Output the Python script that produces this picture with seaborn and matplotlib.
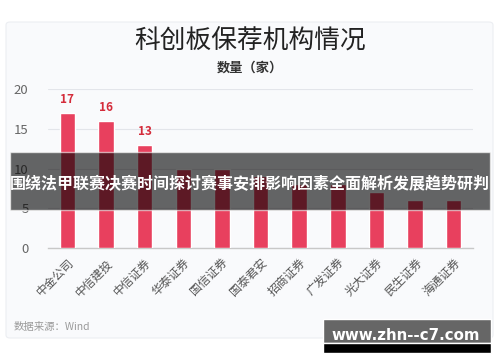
import matplotlib
matplotlib.use("Agg")
import matplotlib.pyplot as plt
import seaborn as sns
import pandas as pd
from matplotlib.patches import FancyBboxPatch, Rectangle

categories = ["中金公司", "中信建投", "中信证券", "华泰证券", "国信证券", "国泰君安",
              "招商证券", "广发证券", "光大证券", "民生证券", "海通证券"]
values = [17, 16, 13, 10, 10, 9, 8, 8, 7, 6, 6]
labeled_count = 3
y_ticks = [0, 5, 10, 15, 20]

sns.set_theme(style="white")
plt.rcParams['font.family'] = ['Noto Sans CJK SC', 'DejaVu Sans']

fig = plt.figure(figsize=(5.0, 3.62), dpi=100)
fig.patch.set_facecolor("white")

# card background
card = FancyBboxPatch((6/500, 1-338/362), 487/500, 316/362,
                      boxstyle="round,pad=0,rounding_size=0.008",
                      transform=fig.transFigure, facecolor="#f9fafc",
                      edgecolor="#eceef2", linewidth=0.8, zorder=-5)
fig.patches.append(card)

ax = fig.add_axes([48/500, 1-248/362, 425/500, 159/362])
ax.set_zorder(1)
ax.set_facecolor("none")
df = pd.DataFrame({"cat": categories, "val": values})
sns.barplot(data=df, x="cat", y="val", ax=ax, color="#e8405e", width=0.4,
            saturation=1, zorder=3)
ax.set_xlim(-0.5, len(categories) - 0.5)
ax.set_ylim(0, 20)
ax.set_yticks(y_ticks)
ax.set_yticklabels([str(t) for t in y_ticks], color="#666666", fontsize=9.5)
ax.yaxis.grid(True, color="#e3e5ea", linewidth=0.8, zorder=0)
ax.set_axisbelow(True)
for s in ["top", "right", "left"]:
    ax.spines[s].set_visible(False)
ax.spines["bottom"].set_color("#c8c8c8")
ax.spines["bottom"].set_linewidth(1.0)
ax.tick_params(axis="y", length=0, pad=14)
ax.set_xticks(range(len(categories)))
ax.set_xticklabels(categories, rotation=45, ha="right", rotation_mode="anchor",
                   color="#555555", fontsize=8.5)
ax.set_xticks([i - 0.5 for i in range(len(categories) + 1)], minor=True)
ax.tick_params(axis="x", which="major", length=0, pad=6)
ax.tick_params(axis="x", which="minor", length=4, color="#c8c8c8", width=1)
ax.set_xlabel("")
ax.set_ylabel("")

for i in range(labeled_count):
    ax.annotate(str(values[i]), (i, values[i]), xytext=(0, 5),
                textcoords="offset points", ha="center", va="bottom",
                color="#d42b3a", fontsize=8.5, fontweight="bold")

fig.text(0.5, 1-42/362, "科创板保荐机构情况", ha="center", va="center",
         fontsize=18.5, color="#222222")
fig.text(0.5, 1-68/362, "数量（家）", ha="center", va="center",
         fontsize=9.5, color="#333333", fontweight="bold")
fig.text(14/500, 1-327/362, "数据来源：Wind", ha="left", va="center",
         fontsize=7.5, color="#9a9a9a")

# overlay banner
banner = Rectangle((10/500, 1-210/362), 480/500, 58/362, transform=fig.transFigure,
                   facecolor="#000000", alpha=0.6, zorder=10)
fig.patches.append(banner)
fig.text(0.5, 1-184/362, "围绕法甲联赛决赛时间探讨赛事安排影响因素全面解析发展趋势研判",
         ha="center", va="center", fontsize=11.5, color="white",
         fontweight="bold", zorder=11)

# watermark box
wm1 = Rectangle((323/500, 1-343/362), 168/500, 24/362, transform=fig.transFigure,
                facecolor="#666666", zorder=10)
wm2 = Rectangle((323/500, 1-353/362), 168/500, 10/362, transform=fig.transFigure,
                facecolor="#000000", zorder=10)
fig.patches.append(wm1)
fig.patches.append(wm2)
fig.text(406/500, 1-335/362, "www.zhn--c7.com", ha="center", va="center",
         fontsize=10.8, color="white", fontweight="bold", zorder=11,
         family=["DejaVu Sans"])

fig.savefig("out.png", dpi=100, facecolor="white")
